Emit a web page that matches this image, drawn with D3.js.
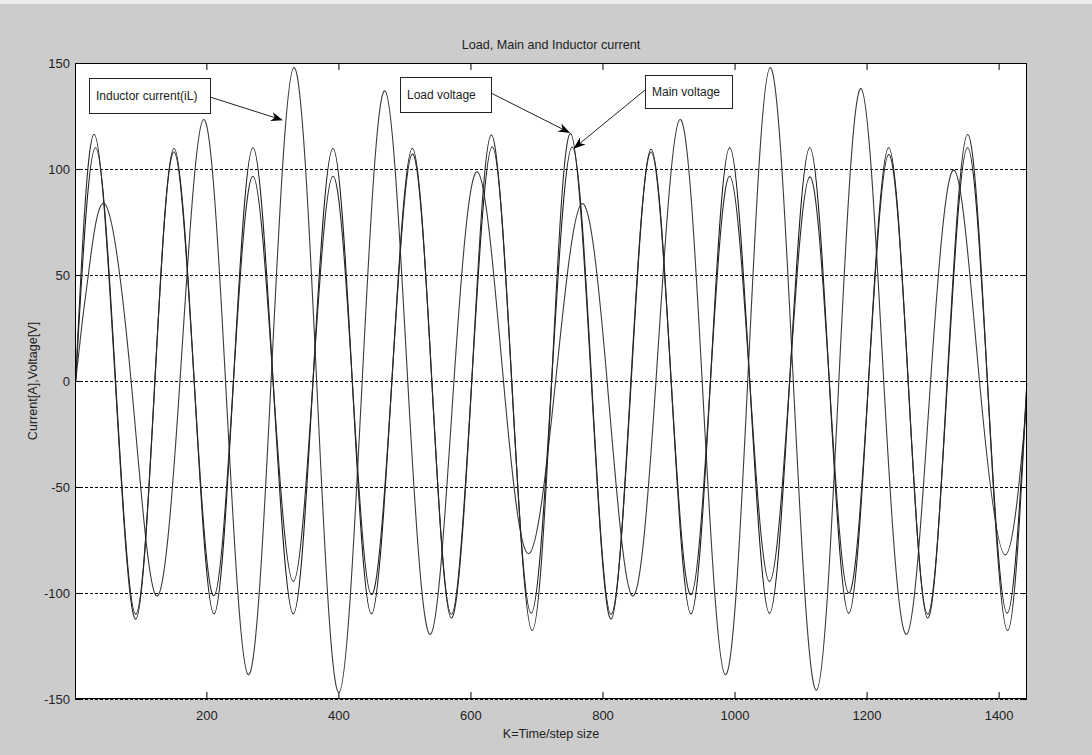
<!DOCTYPE html>
<html>
<head>
<meta charset="utf-8">
<script src="https://cdn.jsdelivr.net/npm/d3@7"></script>
<style>
  html, body { margin: 0; padding: 0; background: #cccccc; }
  svg { display: block; }
  text { font-family: "Liberation Sans", Arial, sans-serif; fill: #222; }
</style>
</head>
<body>
<svg id="chart" width="1092" height="755"></svg>
<script>
// Axis ticks
const kTicks = [200, 400, 600, 800, 1000, 1200, 1400];
const vTicks = [-150, -100, -50, 0, 50, 100, 150];

// Main voltage: sample index K and value (peaks, troughs and zero crossings)
const mainK = [2, 32, 62.5, 93, 122, 151, 181.5, 211.5, 241, 270.6, 301, 331.7, 361.5, 391.7, 421, 450, 481, 512, 541.5, 571, 602, 633, 662.5, 692, 723, 754, 783.5, 813, 843.5, 873.7, 904, 934, 963.5, 992.7, 1023, 1053, 1083.5, 1114, 1143.5, 1173, 1203, 1233.5, 1263, 1292.5, 1322.5, 1353, 1383, 1413, 1443];
const mainV = [0, 110, 0, -110, 0, 109.7, 0, -109.8, 0, 110, 0, -109.8, 0, 109.7, 0, -109.8, 0, 109.7, 0, -110, 0, 110.4, 0, -109.5, 0, 110.4, 0, -110, 0, 109.3, 0, -109.8, 0, 110, 0, -109.5, 0, 110, 0, -109.5, 0, 110, 0, -110, 0, 110, 0, -109.5, 0];

// Load voltage
const loadK = [2, 30, 62, 93, 122, 151, 181.5, 211.5, 241, 270.6, 301, 331.7, 361.5, 391.7, 421, 450, 481, 512, 541.5, 571, 602, 631.5, 662.5, 693.5, 723, 751.5, 783, 813, 843, 873.7, 904, 934, 963.5, 992.7, 1023, 1053, 1083.5, 1114, 1143.5, 1173, 1203, 1233.5, 1263, 1292.5, 1322, 1353, 1383, 1413.6, 1443];
const loadV = [0, 116.3, 0, -112.3, 0, 108, 0, -101.3, 0, 96.6, 0, -94.6, 0, 96.6, 0, -100.8, 0, 107, 0, -111.8, 0, 116, 0, -117.7, 0, 116.7, 0, -112.3, 0, 108, 0, -100.8, 0, 96.6, 0, -94.6, 0, 96.3, 0, -100, 0, 106.8, 0, -111.8, 0, 116.3, 0, -117.7, 0];

// Inductor current iL
const ilK = [2, 12, 22, 47.5, 86, 124, 160, 195.4, 229, 263.5, 298, 332.7, 367, 400.8, 436, 470.5, 505, 539.6, 575, 611, 650, 688.4, 729, 769, 807, 845, 881, 917, 951, 986, 1020, 1054, 1089, 1124, 1158, 1191.7, 1226, 1261, 1297, 1333, 1371, 1410, 1443];
const ilV = [0, 28, 52, 83, 0, -101.3, 0, 123.3, 0, -138.5, 0, 147.8, 0, -146.9, 0, 136.8, 0, -119.4, 0, 98.6, 0, -81.5, 0, 83.7, 0, -101.3, 0, 123.3, 0, -138.5, 0, 147.8, 0, -145.8, 0, 137.9, 0, -119.4, 0, 99.4, 0, -82, -8];

const svg = d3.select("#chart");
const W = 1092, H = 755;
const plot = { left: 75, top: 63, right: 1027, bottom: 699 };

// Figure background with a light strip along the top edge
svg.append("rect").attr("width", W).attr("height", H).attr("fill", "#cccccc");
svg.append("rect").attr("width", W).attr("height", 4).attr("fill", "#ececec");

const x = d3.scaleLinear().domain([1, 1443]).range([plot.left, plot.right]);
const y = d3.scaleLinear().domain([-150, 150]).range([plot.bottom, plot.top]);

// Plot area
svg.append("rect")
  .attr("x", plot.left).attr("y", plot.top)
  .attr("width", plot.right - plot.left).attr("height", plot.bottom - plot.top)
  .attr("fill", "#ffffff");

// Horizontal dashed grid
svg.append("g").selectAll("line").data(vTicks).join("line")
  .attr("x1", plot.left).attr("x2", plot.right)
  .attr("y1", d => Math.round(y(d)) + 0.5).attr("y2", d => Math.round(y(d)) + 0.5)
  .attr("stroke", "#000").attr("stroke-width", 1)
  .attr("stroke-dasharray", "3,2");

svg.append("defs").append("clipPath").attr("id", "clip")
  .append("rect")
  .attr("x", plot.left).attr("y", plot.top)
  .attr("width", plot.right - plot.left).attr("height", plot.bottom - plot.top);

const line = d3.line()
  .x(d => x(d[0]))
  .y(d => y(d[1]))
  .curve(d3.curveNatural);

const series = [
  { k: ilK, v: ilV, color: "#3a3a3a" },
  { k: mainK, v: mainV, color: "#1a1a1a" },
  { k: loadK, v: loadV, color: "#2a2a2a" }
];

const lines = svg.append("g").attr("clip-path", "url(#clip)");
series.forEach(s => {
  lines.append("path")
    .datum(s.k.map((k, i) => [k, s.v[i]]))
    .attr("d", line)
    .attr("fill", "none")
    .attr("stroke", s.color)
    .attr("stroke-width", 1.1)
    .attr("stroke-linejoin", "round");
});

// Axes: ticks pointing inward on all four sides; plain hyphen for negatives
const tickLen = 7;
const fmt = d => String(d);
const axB = d3.axisBottom(x).tickValues(kTicks).tickFormat(fmt).tickSizeInner(-tickLen).tickSizeOuter(0).tickPadding(12);
const axT = d3.axisTop(x).tickValues(kTicks).tickSizeInner(-tickLen).tickSizeOuter(0).tickFormat("");
const axL = d3.axisLeft(y).tickValues(vTicks).tickFormat(fmt).tickSizeInner(-tickLen).tickSizeOuter(0).tickPadding(5);
const axR = d3.axisRight(y).tickValues(vTicks).tickSizeInner(-tickLen).tickSizeOuter(0).tickFormat("");

function styleAxis(g) {
  g.select(".domain").remove();
  g.selectAll(".tick line").attr("stroke", "#000");
  g.selectAll("text").attr("font-size", 13).attr("fill", "#222")
    .attr("font-family", "'Liberation Sans', Arial, sans-serif");
}
svg.append("g").attr("transform", `translate(0,${plot.bottom})`).call(axB).call(styleAxis);
svg.append("g").attr("transform", `translate(0,${plot.top})`).call(axT).call(styleAxis);
svg.append("g").attr("transform", `translate(${plot.left},0)`).call(axL).call(styleAxis);
svg.append("g").attr("transform", `translate(${plot.right},0)`).call(axR).call(styleAxis);

// Plot frame
svg.append("rect")
  .attr("x", plot.left + 0.5).attr("y", plot.top + 0.5)
  .attr("width", plot.right - plot.left - 1).attr("height", plot.bottom - plot.top - 1)
  .attr("fill", "none").attr("stroke", "#000").attr("stroke-width", 1);

// Titles
svg.append("text").attr("x", 551).attr("y", 49).attr("text-anchor", "middle")
  .attr("font-size", 12.6).text("Load, Main and Inductor current");
svg.append("text").attr("x", 551).attr("y", 738).attr("text-anchor", "middle")
  .attr("font-size", 12.6).text("K=Time/step size");
svg.append("text").attr("transform", "translate(37,381) rotate(-90)").attr("text-anchor", "middle")
  .attr("font-size", 12.6).text("Current[A],Voltage[V]");

// Text-box annotations with arrows pointing at the curves
const notes = [
  { text: "Inductor current(iL)", box: [89, 78, 121, 35], from: [210, 97], tip: [316, 123] },
  { text: "Load voltage", box: [400, 77, 91, 35], from: [491, 93], tip: [751, 117] },
  { text: "Main voltage", box: [645, 75, 87, 33], from: [645, 90], tip: [756, 109.6] }
];

const ann = svg.append("g");
notes.forEach(n => {
  const [bx, by, bw, bh] = n.box;
  ann.append("rect").attr("x", bx + 0.5).attr("y", by + 0.5).attr("width", bw).attr("height", bh)
    .attr("fill", "#fff").attr("stroke", "#222").attr("stroke-width", 1);
  ann.append("text").attr("x", bx + 7).attr("y", by + bh / 2 + 4).attr("font-size", 12).text(n.text);

  const tx = x(n.tip[0]), ty = y(n.tip[1]);
  const [fx, fy] = n.from;
  const ang = Math.atan2(ty - fy, tx - fx);
  const L = 12, Wd = 4.5, back = 8.5;
  const ux = Math.cos(ang), uy = Math.sin(ang);
  const px = -uy, py = ux;
  const bxp = tx - ux * L, byp = ty - uy * L;
  ann.append("line").attr("x1", fx).attr("y1", fy).attr("x2", tx - ux * back).attr("y2", ty - uy * back)
    .attr("stroke", "#222").attr("stroke-width", 1);
  ann.append("path")
    .attr("d", `M${tx},${ty} L${bxp + px * Wd},${byp + py * Wd} L${tx - ux * back},${ty - uy * back} L${bxp - px * Wd},${byp - py * Wd} Z`)
    .attr("fill", "#000");
});
</script>
</body>
</html>
